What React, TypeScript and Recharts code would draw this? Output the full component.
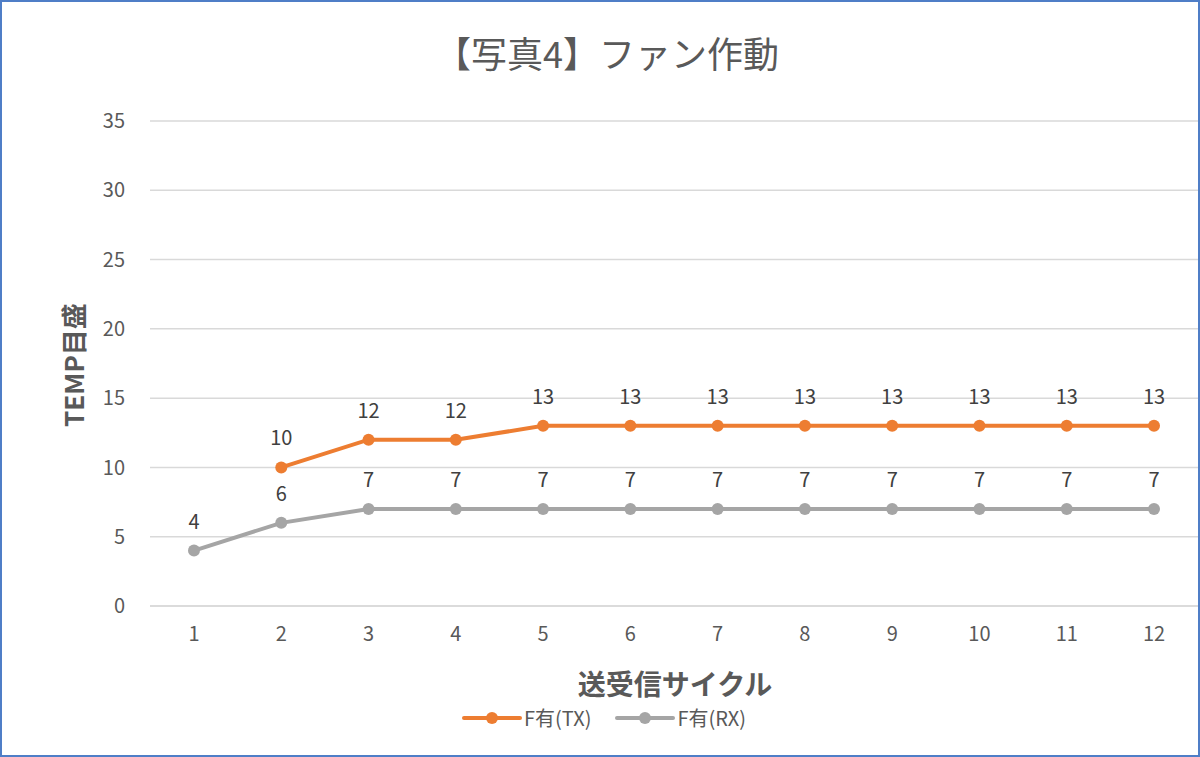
import React from 'react';
import { LineChart, Line, XAxis, YAxis, CartesianGrid, Legend, LabelList } from 'recharts';

const categories = ['1', '2', '3', '4', '5', '6', '7', '8', '9', '10', '11', '12'];
const txValues: (number | null)[] = [null, 10, 12, 12, 13, 13, 13, 13, 13, 13, 13, 13];
const rxValues: number[] = [4, 6, 7, 7, 7, 7, 7, 7, 7, 7, 7, 7];
const yTicks = [0, 5, 10, 15, 20, 25, 30, 35];

const seriesNames = { tx: 'F有(TX)', rx: 'F有(RX)' };
const colors = { tx: '#ED7D31', rx: '#A5A5A5' };

const data = categories.map((c, i) => ({ cat: c, tx: txValues[i], rx: rxValues[i] }));

const FONT = "'Noto Sans CJK JP', 'Noto Sans', sans-serif";

const LegendContent = () => {
  const items = [
    { name: seriesNames.tx, color: colors.tx },
    { name: seriesNames.rx, color: colors.rx },
  ];
  return (
    <div style={{ display: 'flex', justifyContent: 'center', gap: 24, fontFamily: FONT, fontSize: 20, color: '#595959', paddingLeft: 8 }}>
      {items.map((it) => (
        <div key={it.name} style={{ display: 'flex', alignItems: 'center' }}>
          <svg width={60} height={16} style={{ marginRight: 2 }}>
            <line x1={2} y1={8} x2={58} y2={8} stroke={it.color} strokeWidth={4} strokeLinecap="round" />
            <circle cx={30} cy={8} r={6} fill={it.color} />
          </svg>
          <span>{it.name}</span>
        </div>
      ))}
    </div>
  );
};

export default function App() {
  return (
    <div
      style={{
        position: 'absolute',
        left: 0,
        top: 0,
        width: 1200,
        height: 757,
        boxSizing: 'border-box',
        border: '2px solid #4F7EC7',
        background: '#fff',
        overflow: 'hidden',
      }}
    >
      <div style={{ position: 'absolute', left: -2, top: -2 }}>
        <LineChart
          width={1200}
          height={757}
          data={data}
          margin={{ top: 121, right: 2, bottom: 82, left: 90 }}
          style={{ fontFamily: FONT }}
        >
          <text x={607} y={52} textAnchor="middle" dominantBaseline="central" fontSize={36} fill="#595959" fontFamily={FONT}>
            【写真4】ファン作動
          </text>
          <text
            x={72}
            y={365}
            transform="rotate(-90 72 365)"
            textAnchor="middle"
            dominantBaseline="central"
            fontSize={26}
            fontWeight="bold"
            fill="#595959"
            fontFamily={FONT}
          >
            TEMP目盛
          </text>
          <text x={675} y={683} textAnchor="middle" dominantBaseline="central" fontSize={28} fontWeight="bold" fill="#595959" fontFamily={FONT}>
            送受信サイクル
          </text>
          <CartesianGrid vertical={false} stroke="#D9D9D9" strokeWidth={1.5} />
          <XAxis
            dataKey="cat"
            height={40}
            padding={{ left: 44, right: 44 }}
            axisLine={{ stroke: '#D9D9D9', strokeWidth: 1.5 }}
            tickLine={false}
            tick={{ fill: '#595959', fontSize: 20, fontFamily: FONT }}
            tickMargin={15}
          />
          <YAxis
            width={60}
            domain={[0, 35]}
            ticks={yTicks}
            axisLine={false}
            tickLine={false}
            tick={{ fill: '#595959', fontSize: 20, fontFamily: FONT }}
            tickMargin={19}
          />
          <Legend
            content={<LegendContent />}
            verticalAlign="bottom"
            wrapperStyle={{ top: 703, bottom: 'auto', left: 0, width: 1200 }}
          />
          <Line
            type="linear"
            dataKey="tx"
            name={seriesNames.tx}
            stroke={colors.tx}
            strokeWidth={4}
            dot={{ r: 6, fill: colors.tx, stroke: colors.tx, strokeWidth: 0 }}
            activeDot={false}
            isAnimationActive={false}
            connectNulls={false}
          >
            <LabelList dataKey="tx" position="top" offset={22} fill="#404040" fontSize={20} fontFamily={FONT} />
          </Line>
          <Line
            type="linear"
            dataKey="rx"
            name={seriesNames.rx}
            stroke={colors.rx}
            strokeWidth={4}
            dot={{ r: 6, fill: colors.rx, stroke: colors.rx, strokeWidth: 0 }}
            activeDot={false}
            isAnimationActive={false}
          >
            <LabelList dataKey="rx" position="top" offset={22} fill="#404040" fontSize={20} fontFamily={FONT} />
          </Line>
        </LineChart>
      </div>
    </div>
  );
}
